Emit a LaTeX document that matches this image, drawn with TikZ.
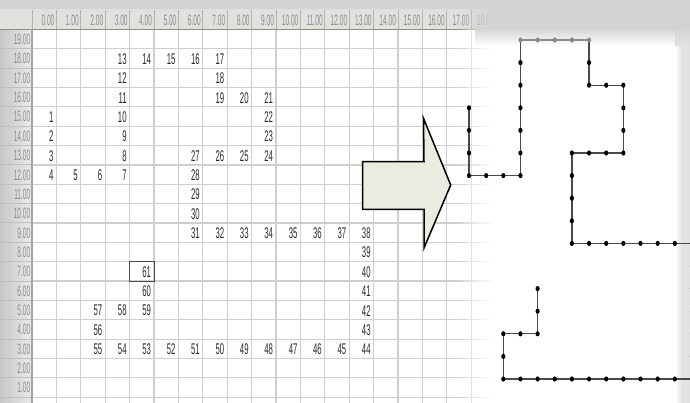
\documentclass[tikz,border=0pt]{standalone}
\usepackage{fontspec}
\setmainfont{Liberation Sans}
\newfontfamily\numfont[FakeStretch=0.5]{Liberation Sans}
\newfontfamily\hdrfont[FakeStretch=0.44]{Liberation Sans}
\definecolor{bggray}{HTML}{D3D3D3}
\definecolor{gridc}{HTML}{CFCFCF}
\definecolor{hdrbg}{HTML}{E2E2DA}
\definecolor{hdrsep}{HTML}{B4B4A8}
\definecolor{hdrline}{HTML}{8E8E80}
\definecolor{hdrtext}{HTML}{8C8C8C}
\definecolor{numtext}{HTML}{2A2A2A}
\definecolor{arrowfill}{HTML}{ECEBE0}
\definecolor{chartline}{HTML}{4A4A4A}
\definecolor{topdot}{HTML}{8C8C8C}
\definecolor{stripc}{HTML}{E2E2E2}
\begin{document}
\begin{tikzpicture}[x=1pt,y=-1pt,
  num/.style={font=\numfont\fontsize{15.5}{15.5}\selectfont, text=numtext, inner sep=0pt, anchor=east},
  hdr/.style={font=\hdrfont\fontsize{15}{15}\selectfont, text=hdrtext, inner sep=0pt, anchor=east},
  gridline/.style={draw=gridc, line width=1.2pt},
  bigarrow/.style={fill=arrowfill, draw=black, line width=1.5pt, line join=miter},
  chartseg/.style={draw=chartline, line width=1.3pt},
  dotmark/.style={fill=black},
  topmark/.style={fill=topdot}]
\useasboundingbox (0,0) rectangle (690,403);
% background
\fill[bggray] (0,0) rectangle (690,403);
% spreadsheet body
\fill[white] (32,29.5) rectangle (495,403);
% row header column
\shade[left color=black!22, right color=black!8] (0,29.5) rectangle (32,403);
% header row
\shade[top color=black!12, bottom color=hdrbg] (0,10) rectangle (495,29.5);
% grid
\foreach \i in {0,...,19}
  \draw[gridline] ({32+24.4*\i},29.5) -- ({32+24.4*\i},403);
\foreach \k in {1,...,19}
  \draw[gridline] (32,{29.5+19.35*\k}) -- (495,{29.5+19.35*\k});
\foreach \k in {1,...,19}
  \draw[draw=black!25, line width=1pt] (0,{29.5+19.35*\k}) -- (32,{29.5+19.35*\k});
\foreach \i in {0,...,19}
  \draw[draw=hdrsep, line width=1pt] ({32+24.4*\i},10) -- ({32+24.4*\i},29.5);
\draw[draw=hdrline, line width=1.6pt] (0,29.5) -- (495,29.5);
\draw[draw=hdrline!80, line width=1.2pt] (32,29.5) -- (32,403);
% header labels
\foreach \i in {0,...,18}
  \node[hdr] (h\i) at ({32+24.4*(\i+1)-1.8},20) {\i.00};
\foreach \r in {1,...,19}
  \node[hdr] (r\r) at (30.5,{29.5+19.35*(19-\r)+9.9}) {\r.00};
% cell numbers
\foreach \n/\c/\r in {1/0/15,2/0/14,3/0/13,4/0/12,5/1/12,6/2/12,7/3/12,8/3/13,9/3/14,10/3/15,
  11/3/16,12/3/17,13/3/18,14/4/18,15/5/18,16/6/18,17/7/18,18/7/17,19/7/16,20/8/16,
  21/9/16,22/9/15,23/9/14,24/9/13,25/8/13,26/7/13,27/6/13,28/6/12,29/6/11,30/6/10,
  31/6/9,32/7/9,33/8/9,34/9/9,35/10/9,36/11/9,37/12/9,38/13/9,39/13/8,40/13/7,
  41/13/6,42/13/5,43/13/4,44/13/3,45/12/3,46/11/3,47/10/3,48/9/3,49/8/3,50/7/3,
  51/6/3,52/5/3,53/4/3,54/3/3,55/2/3,56/2/4,57/2/5,58/3/5,59/4/5,60/4/6,61/4/7}
{
  \node[num] (c\n) at ({32+24.4*(\c+1)-2.8},{29.5+19.35*(19-\r)+10.2}) {\n};
  \coordinate (p\n) at ({469+17.15*\c},{40+22.6*(18-\r)});
}
% selected cell
\draw[draw=black!70, line width=0.9pt] ({32+24.4*4},{29.5+19.35*12}) rectangle ({32+24.4*5},{29.5+19.35*13});
% fade of the spreadsheet into the panel
\foreach \j in {0,...,19}
{
  \fill[white, opacity={(\j+1)/20}] ({458+1.8*\j},29.5) rectangle ({459.8+1.8*\j},403);
  \fill[bggray, opacity={(\j+1)/20}] ({458+1.8*\j},0) rectangle ({459.8+1.8*\j},29.5);
}
% right panel
\fill[white] (493.9,29.5) rectangle (690,403);
\fill[bggray] (493.9,0) rectangle (690,29.5);
\shade[top color=bggray, bottom color=white] (475,28) rectangle (690,46);
\shade[left color=white, right color=stripc] (675,40) rectangle (682,403);
\fill[stripc] (682,40) rectangle (690,403);
\shade[top color=bggray, bottom color=stripc] (675,28) rectangle (690,46);
% big arrow
\coordinate (a1) at (362.7,161.7);
\coordinate (a2) at (424,161.7);
\coordinate (a3) at (423.5,118.3);
\coordinate (a4) at (450.7,185);
\coordinate (a5) at (424,248);
\coordinate (a6) at (424,209.3);
\coordinate (a7) at (362.7,209.3);
\draw[bigarrow] (a1) -- (a2) -- (a3) -- (a4) -- (a5) -- (a6) -- (a7) -- cycle;
% chart
\foreach \n [remember=\n as \last (initially 1)] in {2,...,61}
  \draw[chartseg] (p\last) -- (p\n);
\foreach \n [remember=\n as \last (initially 13)] in {14,...,17}
  \draw[draw=topdot, line width=1.3pt] (p\last) -- (p\n);
\foreach \n in {1,...,12,18,19,...,61}
  \fill[dotmark] (p\n) ellipse [x radius=2.1, y radius=2.6];
\foreach \n in {13,...,17}
  \fill[topmark] (p\n) ellipse [x radius=2.1, y radius=2.6];
\end{tikzpicture}
\end{document}
